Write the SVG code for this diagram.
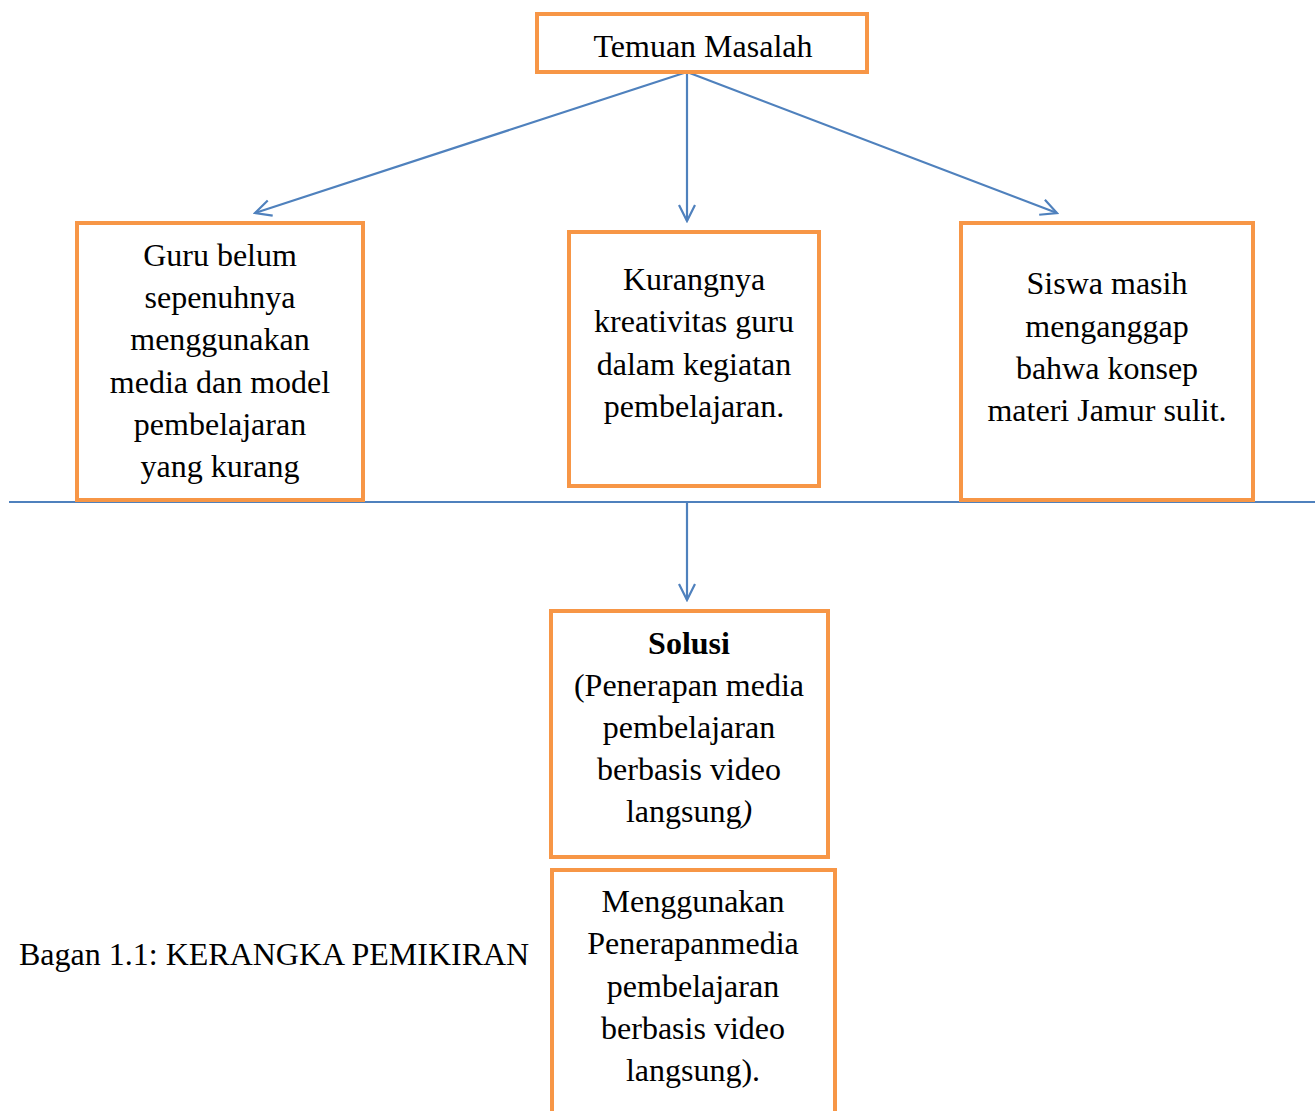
<svg xmlns="http://www.w3.org/2000/svg" width="1315" height="1111" viewBox="0 0 1315 1111">
<style>
.box{fill:#fff;stroke:#F79646;stroke-width:4}
.t{font-family:"Liberation Serif","Times New Roman",serif;font-size:32px;fill:#000;text-anchor:middle}
.conn{stroke:#4F81BD;stroke-width:2.2;fill:none}
</style>
<defs>
<marker id="arr" viewBox="0 0 20 20" refX="18" refY="10" markerWidth="20" markerHeight="20" markerUnits="userSpaceOnUse" orient="auto">
<path d="M2,2 L18,10 L2,18" fill="none" stroke="#4F81BD" stroke-width="2.2"/>
</marker>
</defs>
<rect width="1315" height="1111" fill="#fff"/>
<g id="connectors">
<line class="conn" x1="687" y1="72" x2="255" y2="213" marker-end="url(#arr)"/>
<line class="conn" x1="687" y1="72" x2="687" y2="221" marker-end="url(#arr)"/>
<line class="conn" x1="687" y1="72" x2="1057" y2="213" marker-end="url(#arr)"/>
<line class="conn" x1="9" y1="502" x2="1315" y2="502"/>
<line class="conn" x1="687" y1="502" x2="687" y2="600" marker-end="url(#arr)"/>
</g>
<g id="temuan">
<rect class="box" x="537" y="14" width="330" height="58"/>
<text class="t" x="703" y="57">Temuan Masalah</text>
</g>
<g id="guru">
<rect class="box" x="77" y="223" width="286" height="277"/>
<text class="t" x="220" y="266">Guru belum</text>
<text class="t" x="220" y="308">sepenuhnya</text>
<text class="t" x="220" y="350">menggunakan</text>
<text class="t" x="220" y="393">media dan model</text>
<text class="t" x="220" y="435">pembelajaran</text>
<text class="t" x="220" y="477">yang kurang</text>
</g>
<g id="kurang">
<rect class="box" x="569" y="232" width="250" height="254"/>
<text class="t" x="694" y="290">Kurangnya</text>
<text class="t" x="694" y="332">kreativitas guru</text>
<text class="t" x="694" y="375">dalam kegiatan</text>
<text class="t" x="694" y="417">pembelajaran.</text>
</g>
<g id="siswa">
<rect class="box" x="961" y="223" width="292" height="277"/>
<text class="t" x="1107" y="294">Siswa masih</text>
<text class="t" x="1107" y="337">menganggap</text>
<text class="t" x="1107" y="379">bahwa konsep</text>
<text class="t" x="1107" y="421">materi Jamur sulit.</text>
</g>
<g id="solusi">
<rect class="box" x="551" y="611" width="277" height="246"/>
<text class="t" x="689" y="654" font-weight="bold">Solusi</text>
<text class="t" x="689" y="696">(Penerapan media</text>
<text class="t" x="689" y="738">pembelajaran</text>
<text class="t" x="689" y="780">berbasis video</text>
<text class="t" x="689" y="822">langsung<tspan font-style="italic">)</tspan></text>
</g>
<g id="menggunakan">
<rect class="box" x="552" y="870" width="283" height="250"/>
<text class="t" x="693" y="912">Menggunakan</text>
<text class="t" x="693" y="954">Penerapanmedia</text>
<text class="t" x="693" y="997">pembelajaran</text>
<text class="t" x="693" y="1039">berbasis video</text>
<text class="t" x="693" y="1081">langsung).</text>
</g>
<g id="caption">
<text class="t" x="19" y="965" style="text-anchor:start">Bagan 1.1: KERANGKA PEMIKIRAN</text>
</g>
</svg>
